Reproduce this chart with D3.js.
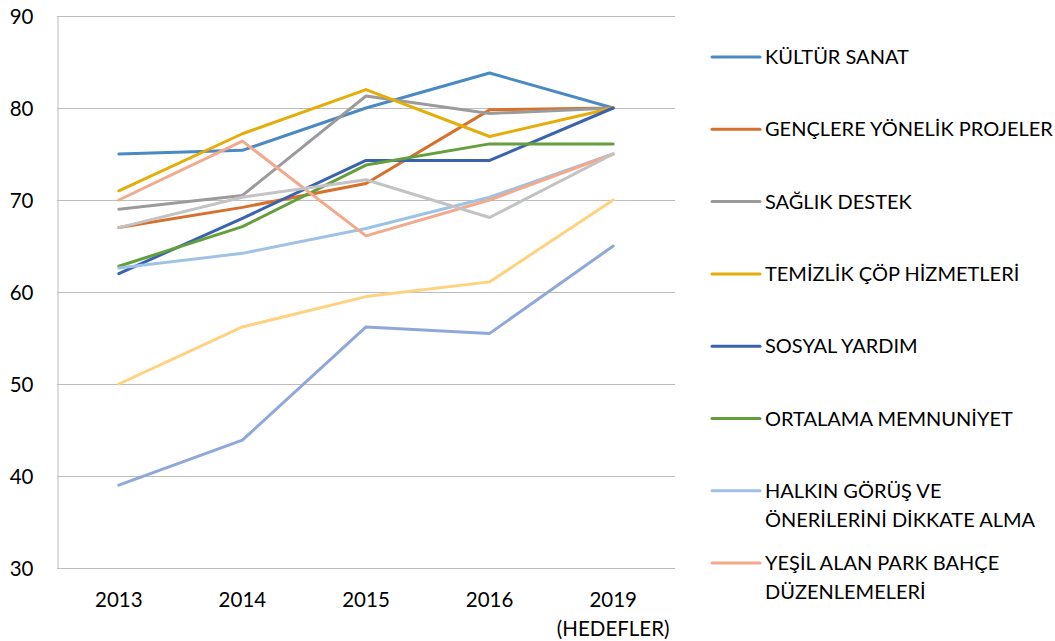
<!DOCTYPE html>
<html>
<head>
<meta charset="utf-8">
<script src="https://cdn.jsdelivr.net/npm/d3@7"></script>
<style>
  body { margin: 0; background: #fff; }
  svg text { font-family: Lato, "Open Sans", sans-serif; fill: #000; }
</style>
</head>
<body>
<div class="graph__canvas"></div>
<script>
// Categories on the x axis (last one is two lines)
var years = ["2013", "2014", "2015", "2016", "2019"];
var yearLabels = [["2013"], ["2014"], ["2015"], ["2016"], ["2019", "(HEDEFLER)"]];

// Y axis ticks
var yTicks = [30, 40, 50, 60, 70, 80, 90];

// Series values
var kulturSanat = [75, 75.4, 80, 83.8, 80];
var genclereYonelik = [67, 69.2, 71.8, 79.8, 80];
var saglikDestek = [69, 70.5, 81.3, 79.4, 80];
var temizlikCop = [71, 77.2, 82, 76.9, 80];
var sosyalYardim = [62, 68, 74.3, 74.3, 80];
var ortalamaMemnuniyet = [62.8, 67.1, 73.8, 76.1, 76.1];
var halkinGorus = [62.6, 64.2, 66.9, 70.3, 75];
var yesilAlan = [70, 76.4, 66.1, 70, 75];
// three more lines are drawn but their legend entries are cut off
var extraGray = [67, 70.3, 72.2, 68.1, 75];
var extraYellow = [50, 56.2, 59.5, 61.1, 70];
var extraLavender = [39, 43.9, 56.2, 55.5, 65];

var seriesNames = [
    ["KÜLTÜR SANAT"],
    ["GENÇLERE YÖNELİK PROJELER"],
    ["SAĞLIK DESTEK"],
    ["TEMİZLİK ÇÖP HİZMETLERİ"],
    ["SOSYAL YARDIM"],
    ["ORTALAMA MEMNUNİYET"],
    ["HALKIN GÖRÜŞ VE", "ÖNERİLERİNİ DİKKATE ALMA"],
    ["YEŞİL ALAN PARK BAHÇE", "DÜZENLEMELERİ"],
    null, null, null
];
var seriesValues = [kulturSanat, genclereYonelik, saglikDestek, temizlikCop, sosyalYardim,
    ortalamaMemnuniyet, halkinGorus, yesilAlan, extraGray, extraYellow, extraLavender];
var seriesColors = ["#4a89c2", "#d6702c", "#9b9b9b", "#e5ad0a", "#3b63ad", "#63a03d",
    "#9dc2e6", "#f2a98c", "#c3c3c3", "#ffd27f", "#8ea8da"];

// Layout
var width = 1055, height = 641;
var plot = { left: 57, right: 675, top: 16, bottom: 568 };

var svg = d3.select(".graph__canvas")
    .append("svg")
        .attr("width", width)
        .attr("height", height);

var x = d3.scaleBand()
    .domain(years)
    .range([plot.left, plot.right]);

var y = d3.scaleLinear()
    .domain([30, 90])
    .range([plot.bottom, plot.top]);

// Gridlines
svg.append("g")
    .selectAll("line")
    .data(yTicks)
    .join("line")
        .attr("x1", plot.left)
        .attr("x2", plot.right)
        .attr("y1", d => Math.round(y(d)) + 0.5)
        .attr("y2", d => Math.round(y(d)) + 0.5)
        .attr("stroke", "#bdbdbd")
        .attr("stroke-width", 1);

// Left axis line and labels
var yAxis = svg.append("g")
    .attr("transform", `translate(${plot.left + 0.5}, 0.5)`)
    .call(d3.axisLeft(y).tickValues(yTicks).tickSize(0).tickPadding(24));
yAxis.select(".domain").attr("stroke", "#bdbdbd");
yAxis.selectAll("text")
    .style("font-size", "20.5px")
    .attr("dy", "0.35em");

// X labels
var xLabels = svg.append("g")
    .selectAll("text")
    .data(years)
    .join("text")
        .attr("x", d => x(d) + x.bandwidth() / 2)
        .attr("y", 607)
        .attr("text-anchor", "middle")
        .style("font-size", "20.5px");
xLabels.selectAll("tspan")
    .data((d, i) => yearLabels[i])
    .join("tspan")
        .attr("x", function() { return this.parentNode.getAttribute("x"); })
        .attr("dy", (d, i) => i === 0 ? 0 : 29)
        .text(d => d);

// Lines
var line = d3.line()
    .x((d, i) => x(years[i]) + x.bandwidth() / 2)
    .y(d => y(d));

svg.append("g")
    .selectAll("path")
    .data(seriesValues)
    .join("path")
        .attr("d", d => line(d))
        .attr("fill", "none")
        .attr("stroke", (d, i) => seriesColors[i])
        .attr("stroke-width", 3)
        .attr("stroke-linejoin", "round")
        .attr("stroke-linecap", "round");

// Legend
var legendTop = 57, legendStep = 72.3;
var legend = svg.append("g")
    .selectAll("g")
    .data(seriesNames.map((n, i) => ({ name: n, color: seriesColors[i] })).filter(d => d.name))
    .join("g")
        .attr("transform", (d, i) => `translate(712, ${legendTop + i * legendStep})`);

legend.append("line")
    .attr("x1", 0)
    .attr("x2", 48)
    .attr("stroke", d => d.color)
    .attr("stroke-width", 3)
    .attr("stroke-linecap", "round");

legend.append("text")
    .attr("x", 53)
    .style("font-size", "20px")
    .selectAll("tspan")
    .data(d => d.name)
    .join("tspan")
        .attr("x", 53)
        .attr("dy", (d, i) => i === 0 ? "0.35em" : 29)
        .text(d => d);
</script>
</body>
</html>
